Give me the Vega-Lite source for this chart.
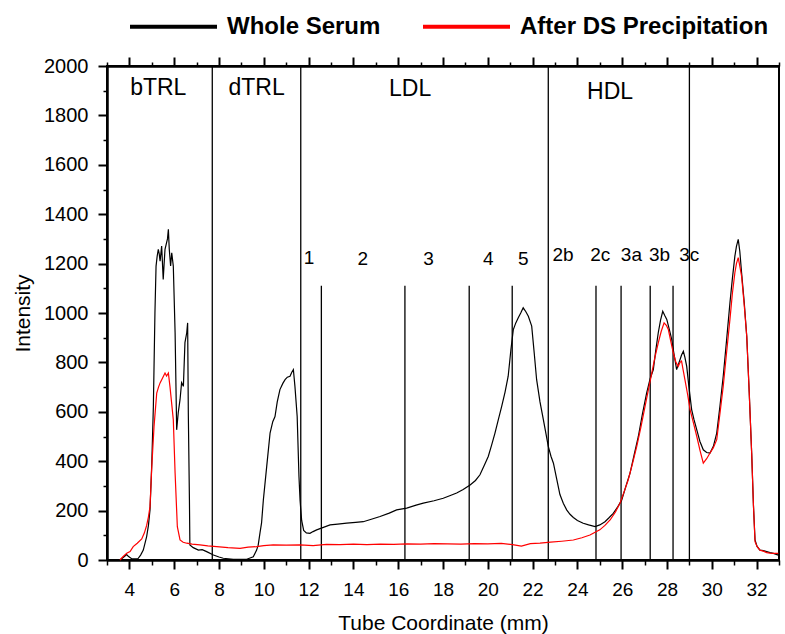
{
  "$schema": "https://vega.github.io/schema/vega-lite/v6.json",
  "width": 672,
  "height": 494,
  "autosize": {"type": "none"},
  "padding": {"left": 107, "top": 66, "right": 6, "bottom": 74},
  "background": "white",
  "config": {
    "view": {"stroke": "black", "strokeWidth": 2},
    "font": "Liberation Sans",
    "axis": {
      "grid": false,
      "domainColor": "black",
      "domainWidth": 2,
      "tickColor": "black",
      "tickWidth": 2,
      "labelColor": "black",
      "titleColor": "black",
      "labelFont": "Liberation Sans",
      "titleFont": "Liberation Sans",
      "titleFontWeight": "normal",
      "labelFlush": false,
      "labelOverlap": false
    }
  },
  "datasets": {
    "curves": [
      {"series": "Whole Serum", "x": 3.58, "y": 0},
      {"series": "Whole Serum", "x": 3.75, "y": 12},
      {"series": "Whole Serum", "x": 3.88, "y": 22},
      {"series": "Whole Serum", "x": 3.95, "y": 15},
      {"series": "Whole Serum", "x": 4.1, "y": 5},
      {"series": "Whole Serum", "x": 4.38, "y": 5},
      {"series": "Whole Serum", "x": 4.5, "y": 20},
      {"series": "Whole Serum", "x": 4.62, "y": 40},
      {"series": "Whole Serum", "x": 4.77, "y": 95},
      {"series": "Whole Serum", "x": 4.85, "y": 140},
      {"series": "Whole Serum", "x": 4.92, "y": 203},
      {"series": "Whole Serum", "x": 5.0, "y": 393},
      {"series": "Whole Serum", "x": 5.07, "y": 622},
      {"series": "Whole Serum", "x": 5.14, "y": 1000},
      {"series": "Whole Serum", "x": 5.19, "y": 1190},
      {"series": "Whole Serum", "x": 5.24, "y": 1230},
      {"series": "Whole Serum", "x": 5.29, "y": 1258},
      {"series": "Whole Serum", "x": 5.33, "y": 1240},
      {"series": "Whole Serum", "x": 5.37, "y": 1210},
      {"series": "Whole Serum", "x": 5.44, "y": 1271},
      {"series": "Whole Serum", "x": 5.51, "y": 1136},
      {"series": "Whole Serum", "x": 5.55, "y": 1200},
      {"series": "Whole Serum", "x": 5.59, "y": 1258},
      {"series": "Whole Serum", "x": 5.66, "y": 1285},
      {"series": "Whole Serum", "x": 5.7, "y": 1300},
      {"series": "Whole Serum", "x": 5.74, "y": 1339},
      {"series": "Whole Serum", "x": 5.78, "y": 1258},
      {"series": "Whole Serum", "x": 5.84, "y": 1190},
      {"series": "Whole Serum", "x": 5.89, "y": 1244},
      {"series": "Whole Serum", "x": 5.96, "y": 1190},
      {"series": "Whole Serum", "x": 6.04, "y": 921},
      {"series": "Whole Serum", "x": 6.11, "y": 527},
      {"series": "Whole Serum", "x": 6.18, "y": 596},
      {"series": "Whole Serum", "x": 6.26, "y": 649},
      {"series": "Whole Serum", "x": 6.33, "y": 718},
      {"series": "Whole Serum", "x": 6.41, "y": 703},
      {"series": "Whole Serum", "x": 6.48, "y": 880},
      {"series": "Whole Serum", "x": 6.56, "y": 920},
      {"series": "Whole Serum", "x": 6.6, "y": 960},
      {"series": "Whole Serum", "x": 6.63, "y": 596},
      {"series": "Whole Serum", "x": 6.68, "y": 243},
      {"series": "Whole Serum", "x": 6.7, "y": 61},
      {"series": "Whole Serum", "x": 6.85, "y": 50},
      {"series": "Whole Serum", "x": 7.08, "y": 40},
      {"series": "Whole Serum", "x": 7.25, "y": 42},
      {"series": "Whole Serum", "x": 7.45, "y": 34},
      {"series": "Whole Serum", "x": 7.75, "y": 20},
      {"series": "Whole Serum", "x": 8.0, "y": 12},
      {"series": "Whole Serum", "x": 8.19, "y": 7},
      {"series": "Whole Serum", "x": 8.64, "y": 3},
      {"series": "Whole Serum", "x": 9.24, "y": 3},
      {"series": "Whole Serum", "x": 9.53, "y": 13},
      {"series": "Whole Serum", "x": 9.68, "y": 40},
      {"series": "Whole Serum", "x": 9.75, "y": 60},
      {"series": "Whole Serum", "x": 9.83, "y": 110},
      {"series": "Whole Serum", "x": 9.9, "y": 150},
      {"series": "Whole Serum", "x": 9.98, "y": 243},
      {"series": "Whole Serum", "x": 10.13, "y": 379},
      {"series": "Whole Serum", "x": 10.28, "y": 514},
      {"series": "Whole Serum", "x": 10.4, "y": 560},
      {"series": "Whole Serum", "x": 10.5, "y": 581},
      {"series": "Whole Serum", "x": 10.6, "y": 640},
      {"series": "Whole Serum", "x": 10.72, "y": 690},
      {"series": "Whole Serum", "x": 10.85, "y": 715},
      {"series": "Whole Serum", "x": 10.95, "y": 730},
      {"series": "Whole Serum", "x": 11.05, "y": 740},
      {"series": "Whole Serum", "x": 11.17, "y": 744},
      {"series": "Whole Serum", "x": 11.25, "y": 760},
      {"series": "Whole Serum", "x": 11.32, "y": 771},
      {"series": "Whole Serum", "x": 11.39, "y": 703},
      {"series": "Whole Serum", "x": 11.49, "y": 581},
      {"series": "Whole Serum", "x": 11.57, "y": 338},
      {"series": "Whole Serum", "x": 11.62, "y": 240},
      {"series": "Whole Serum", "x": 11.69, "y": 160},
      {"series": "Whole Serum", "x": 11.78, "y": 120},
      {"series": "Whole Serum", "x": 11.9, "y": 110},
      {"series": "Whole Serum", "x": 12.06, "y": 108},
      {"series": "Whole Serum", "x": 12.2, "y": 115},
      {"series": "Whole Serum", "x": 12.36, "y": 122},
      {"series": "Whole Serum", "x": 12.6, "y": 130},
      {"series": "Whole Serum", "x": 12.96, "y": 142},
      {"series": "Whole Serum", "x": 13.3, "y": 145},
      {"series": "Whole Serum", "x": 13.7, "y": 149},
      {"series": "Whole Serum", "x": 14.1, "y": 152},
      {"series": "Whole Serum", "x": 14.44, "y": 155},
      {"series": "Whole Serum", "x": 14.8, "y": 165},
      {"series": "Whole Serum", "x": 15.19, "y": 176},
      {"series": "Whole Serum", "x": 15.6, "y": 190},
      {"series": "Whole Serum", "x": 15.93, "y": 203},
      {"series": "Whole Serum", "x": 16.38, "y": 210},
      {"series": "Whole Serum", "x": 16.8, "y": 222},
      {"series": "Whole Serum", "x": 17.12, "y": 230},
      {"series": "Whole Serum", "x": 17.6, "y": 240},
      {"series": "Whole Serum", "x": 18.01, "y": 250},
      {"series": "Whole Serum", "x": 18.3, "y": 260},
      {"series": "Whole Serum", "x": 18.61, "y": 271},
      {"series": "Whole Serum", "x": 18.9, "y": 285},
      {"series": "Whole Serum", "x": 19.21, "y": 304},
      {"series": "Whole Serum", "x": 19.45, "y": 322},
      {"series": "Whole Serum", "x": 19.65, "y": 345},
      {"series": "Whole Serum", "x": 19.85, "y": 385},
      {"series": "Whole Serum", "x": 20.02, "y": 419},
      {"series": "Whole Serum", "x": 20.17, "y": 465},
      {"series": "Whole Serum", "x": 20.32, "y": 514},
      {"series": "Whole Serum", "x": 20.47, "y": 568},
      {"series": "Whole Serum", "x": 20.62, "y": 622},
      {"series": "Whole Serum", "x": 20.77, "y": 680},
      {"series": "Whole Serum", "x": 20.91, "y": 744},
      {"series": "Whole Serum", "x": 21.03, "y": 850},
      {"series": "Whole Serum", "x": 21.14, "y": 933},
      {"series": "Whole Serum", "x": 21.25, "y": 960},
      {"series": "Whole Serum", "x": 21.36, "y": 981},
      {"series": "Whole Serum", "x": 21.47, "y": 1000},
      {"series": "Whole Serum", "x": 21.58, "y": 1021},
      {"series": "Whole Serum", "x": 21.7, "y": 1005},
      {"series": "Whole Serum", "x": 21.81, "y": 987},
      {"series": "Whole Serum", "x": 21.96, "y": 947},
      {"series": "Whole Serum", "x": 22.07, "y": 840},
      {"series": "Whole Serum", "x": 22.18, "y": 730},
      {"series": "Whole Serum", "x": 22.33, "y": 640},
      {"series": "Whole Serum", "x": 22.48, "y": 568},
      {"series": "Whole Serum", "x": 22.6, "y": 510},
      {"series": "Whole Serum", "x": 22.7, "y": 460},
      {"series": "Whole Serum", "x": 22.82, "y": 420},
      {"series": "Whole Serum", "x": 22.93, "y": 392},
      {"series": "Whole Serum", "x": 23.07, "y": 330},
      {"series": "Whole Serum", "x": 23.22, "y": 265},
      {"series": "Whole Serum", "x": 23.37, "y": 230},
      {"series": "Whole Serum", "x": 23.52, "y": 203},
      {"series": "Whole Serum", "x": 23.67, "y": 185},
      {"series": "Whole Serum", "x": 23.82, "y": 172},
      {"series": "Whole Serum", "x": 24.0, "y": 160},
      {"series": "Whole Serum", "x": 24.26, "y": 149},
      {"series": "Whole Serum", "x": 24.5, "y": 142},
      {"series": "Whole Serum", "x": 24.79, "y": 135},
      {"series": "Whole Serum", "x": 25.0, "y": 142},
      {"series": "Whole Serum", "x": 25.23, "y": 155},
      {"series": "Whole Serum", "x": 25.4, "y": 170},
      {"series": "Whole Serum", "x": 25.6, "y": 189},
      {"series": "Whole Serum", "x": 25.8, "y": 215},
      {"series": "Whole Serum", "x": 25.98, "y": 243},
      {"series": "Whole Serum", "x": 26.17, "y": 300},
      {"series": "Whole Serum", "x": 26.35, "y": 352},
      {"series": "Whole Serum", "x": 26.53, "y": 425},
      {"series": "Whole Serum", "x": 26.72, "y": 500},
      {"series": "Whole Serum", "x": 26.9, "y": 590},
      {"series": "Whole Serum", "x": 27.09, "y": 676},
      {"series": "Whole Serum", "x": 27.25, "y": 735},
      {"series": "Whole Serum", "x": 27.39, "y": 771},
      {"series": "Whole Serum", "x": 27.5, "y": 850},
      {"series": "Whole Serum", "x": 27.61, "y": 920},
      {"series": "Whole Serum", "x": 27.71, "y": 970},
      {"series": "Whole Serum", "x": 27.81, "y": 1007},
      {"series": "Whole Serum", "x": 27.9, "y": 990},
      {"series": "Whole Serum", "x": 27.99, "y": 974},
      {"series": "Whole Serum", "x": 28.1, "y": 935},
      {"series": "Whole Serum", "x": 28.21, "y": 893},
      {"series": "Whole Serum", "x": 28.32, "y": 830},
      {"series": "Whole Serum", "x": 28.43, "y": 771},
      {"series": "Whole Serum", "x": 28.5, "y": 790},
      {"series": "Whole Serum", "x": 28.58, "y": 811},
      {"series": "Whole Serum", "x": 28.65, "y": 830},
      {"series": "Whole Serum", "x": 28.73, "y": 845},
      {"series": "Whole Serum", "x": 28.8, "y": 820},
      {"series": "Whole Serum", "x": 28.88, "y": 784},
      {"series": "Whole Serum", "x": 28.98, "y": 700},
      {"series": "Whole Serum", "x": 29.1, "y": 609},
      {"series": "Whole Serum", "x": 29.2, "y": 570},
      {"series": "Whole Serum", "x": 29.33, "y": 527},
      {"series": "Whole Serum", "x": 29.47, "y": 480},
      {"series": "Whole Serum", "x": 29.62, "y": 446},
      {"series": "Whole Serum", "x": 29.77, "y": 435},
      {"series": "Whole Serum", "x": 29.92, "y": 433},
      {"series": "Whole Serum", "x": 30.07, "y": 460},
      {"series": "Whole Serum", "x": 30.22, "y": 514},
      {"series": "Whole Serum", "x": 30.36, "y": 620},
      {"series": "Whole Serum", "x": 30.51, "y": 744},
      {"series": "Whole Serum", "x": 30.66, "y": 890},
      {"series": "Whole Serum", "x": 30.81, "y": 1041},
      {"series": "Whole Serum", "x": 30.92, "y": 1140},
      {"series": "Whole Serum", "x": 31.03, "y": 1230},
      {"series": "Whole Serum", "x": 31.1, "y": 1270},
      {"series": "Whole Serum", "x": 31.18, "y": 1298},
      {"series": "Whole Serum", "x": 31.25, "y": 1250},
      {"series": "Whole Serum", "x": 31.33, "y": 1163},
      {"series": "Whole Serum", "x": 31.45, "y": 1040},
      {"series": "Whole Serum", "x": 31.56, "y": 906},
      {"series": "Whole Serum", "x": 31.67, "y": 680},
      {"series": "Whole Serum", "x": 31.78, "y": 433},
      {"series": "Whole Serum", "x": 31.86, "y": 220},
      {"series": "Whole Serum", "x": 31.93, "y": 81},
      {"series": "Whole Serum", "x": 32.02, "y": 55},
      {"series": "Whole Serum", "x": 32.15, "y": 40},
      {"series": "Whole Serum", "x": 32.3, "y": 38},
      {"series": "Whole Serum", "x": 32.45, "y": 34},
      {"series": "Whole Serum", "x": 32.6, "y": 30},
      {"series": "Whole Serum", "x": 32.75, "y": 27},
      {"series": "Whole Serum", "x": 32.97, "y": 20},
      {"series": "After DS Precipitation", "x": 3.58, "y": 0},
      {"series": "After DS Precipitation", "x": 3.7, "y": 12},
      {"series": "After DS Precipitation", "x": 3.88, "y": 27},
      {"series": "After DS Precipitation", "x": 4.03, "y": 34},
      {"series": "After DS Precipitation", "x": 4.17, "y": 54},
      {"series": "After DS Precipitation", "x": 4.35, "y": 68},
      {"series": "After DS Precipitation", "x": 4.55, "y": 85},
      {"series": "After DS Precipitation", "x": 4.67, "y": 110},
      {"series": "After DS Precipitation", "x": 4.77, "y": 140},
      {"series": "After DS Precipitation", "x": 4.85, "y": 175},
      {"series": "After DS Precipitation", "x": 4.92, "y": 216},
      {"series": "After DS Precipitation", "x": 5.0, "y": 379},
      {"series": "After DS Precipitation", "x": 5.1, "y": 541},
      {"series": "After DS Precipitation", "x": 5.22, "y": 676},
      {"series": "After DS Precipitation", "x": 5.3, "y": 700},
      {"series": "After DS Precipitation", "x": 5.37, "y": 717},
      {"series": "After DS Precipitation", "x": 5.47, "y": 735},
      {"series": "After DS Precipitation", "x": 5.59, "y": 757},
      {"series": "After DS Precipitation", "x": 5.66, "y": 745},
      {"series": "After DS Precipitation", "x": 5.74, "y": 757},
      {"series": "After DS Precipitation", "x": 5.81, "y": 703},
      {"series": "After DS Precipitation", "x": 5.88, "y": 640},
      {"series": "After DS Precipitation", "x": 5.96, "y": 568},
      {"series": "After DS Precipitation", "x": 6.04, "y": 352},
      {"series": "After DS Precipitation", "x": 6.14, "y": 135},
      {"series": "After DS Precipitation", "x": 6.26, "y": 81},
      {"series": "After DS Precipitation", "x": 6.4, "y": 72},
      {"series": "After DS Precipitation", "x": 6.56, "y": 68},
      {"series": "After DS Precipitation", "x": 6.8, "y": 64},
      {"series": "After DS Precipitation", "x": 7.15, "y": 61},
      {"series": "After DS Precipitation", "x": 7.5, "y": 57},
      {"series": "After DS Precipitation", "x": 7.9, "y": 54},
      {"series": "After DS Precipitation", "x": 8.4, "y": 50},
      {"series": "After DS Precipitation", "x": 8.94, "y": 47},
      {"series": "After DS Precipitation", "x": 9.3, "y": 52},
      {"series": "After DS Precipitation", "x": 9.68, "y": 54},
      {"series": "After DS Precipitation", "x": 10.0, "y": 58},
      {"series": "After DS Precipitation", "x": 10.42, "y": 61},
      {"series": "After DS Precipitation", "x": 11.0, "y": 60},
      {"series": "After DS Precipitation", "x": 11.62, "y": 61},
      {"series": "After DS Precipitation", "x": 12.2, "y": 58},
      {"series": "After DS Precipitation", "x": 12.8, "y": 63},
      {"series": "After DS Precipitation", "x": 13.4, "y": 62},
      {"series": "After DS Precipitation", "x": 14.0, "y": 64},
      {"series": "After DS Precipitation", "x": 14.6, "y": 62},
      {"series": "After DS Precipitation", "x": 15.2, "y": 64},
      {"series": "After DS Precipitation", "x": 15.8, "y": 63},
      {"series": "After DS Precipitation", "x": 16.4, "y": 65},
      {"series": "After DS Precipitation", "x": 17.0, "y": 64},
      {"series": "After DS Precipitation", "x": 17.6, "y": 66},
      {"series": "After DS Precipitation", "x": 18.2, "y": 65},
      {"series": "After DS Precipitation", "x": 18.8, "y": 64},
      {"series": "After DS Precipitation", "x": 19.4, "y": 66},
      {"series": "After DS Precipitation", "x": 20.0, "y": 65},
      {"series": "After DS Precipitation", "x": 20.6, "y": 67},
      {"series": "After DS Precipitation", "x": 21.1, "y": 62},
      {"series": "After DS Precipitation", "x": 21.5, "y": 56},
      {"series": "After DS Precipitation", "x": 21.9, "y": 66},
      {"series": "After DS Precipitation", "x": 22.33, "y": 68},
      {"series": "After DS Precipitation", "x": 22.8, "y": 72},
      {"series": "After DS Precipitation", "x": 23.3, "y": 76},
      {"series": "After DS Precipitation", "x": 23.82, "y": 81},
      {"series": "After DS Precipitation", "x": 24.2, "y": 90},
      {"series": "After DS Precipitation", "x": 24.56, "y": 101},
      {"series": "After DS Precipitation", "x": 25.0, "y": 122},
      {"series": "After DS Precipitation", "x": 25.23, "y": 140},
      {"series": "After DS Precipitation", "x": 25.46, "y": 162},
      {"series": "After DS Precipitation", "x": 25.7, "y": 195},
      {"series": "After DS Precipitation", "x": 25.9, "y": 230},
      {"series": "After DS Precipitation", "x": 26.1, "y": 280},
      {"series": "After DS Precipitation", "x": 26.27, "y": 325},
      {"series": "After DS Precipitation", "x": 26.46, "y": 390},
      {"series": "After DS Precipitation", "x": 26.65, "y": 460},
      {"series": "After DS Precipitation", "x": 26.84, "y": 540},
      {"series": "After DS Precipitation", "x": 27.02, "y": 622},
      {"series": "After DS Precipitation", "x": 27.17, "y": 690},
      {"series": "After DS Precipitation", "x": 27.32, "y": 757},
      {"series": "After DS Precipitation", "x": 27.46, "y": 820},
      {"series": "After DS Precipitation", "x": 27.61, "y": 879},
      {"series": "After DS Precipitation", "x": 27.74, "y": 925},
      {"series": "After DS Precipitation", "x": 27.87, "y": 960},
      {"series": "After DS Precipitation", "x": 27.97, "y": 950},
      {"series": "After DS Precipitation", "x": 28.06, "y": 933},
      {"series": "After DS Precipitation", "x": 28.17, "y": 885},
      {"series": "After DS Precipitation", "x": 28.28, "y": 839},
      {"series": "After DS Precipitation", "x": 28.4, "y": 800},
      {"series": "After DS Precipitation", "x": 28.5, "y": 784},
      {"series": "After DS Precipitation", "x": 28.58, "y": 800},
      {"series": "After DS Precipitation", "x": 28.65, "y": 805},
      {"series": "After DS Precipitation", "x": 28.72, "y": 770},
      {"series": "After DS Precipitation", "x": 28.8, "y": 730},
      {"series": "After DS Precipitation", "x": 28.92, "y": 670},
      {"series": "After DS Precipitation", "x": 29.03, "y": 609},
      {"series": "After DS Precipitation", "x": 29.18, "y": 555},
      {"series": "After DS Precipitation", "x": 29.33, "y": 500},
      {"series": "After DS Precipitation", "x": 29.47, "y": 445},
      {"series": "After DS Precipitation", "x": 29.62, "y": 392},
      {"series": "After DS Precipitation", "x": 29.77, "y": 410},
      {"series": "After DS Precipitation", "x": 29.92, "y": 433},
      {"series": "After DS Precipitation", "x": 30.07, "y": 455},
      {"series": "After DS Precipitation", "x": 30.22, "y": 487},
      {"series": "After DS Precipitation", "x": 30.36, "y": 590},
      {"series": "After DS Precipitation", "x": 30.51, "y": 703},
      {"series": "After DS Precipitation", "x": 30.66, "y": 840},
      {"series": "After DS Precipitation", "x": 30.81, "y": 974},
      {"series": "After DS Precipitation", "x": 30.92, "y": 1080},
      {"series": "After DS Precipitation", "x": 31.03, "y": 1163},
      {"series": "After DS Precipitation", "x": 31.1, "y": 1200},
      {"series": "After DS Precipitation", "x": 31.18, "y": 1224},
      {"series": "After DS Precipitation", "x": 31.25, "y": 1190},
      {"series": "After DS Precipitation", "x": 31.33, "y": 1149},
      {"series": "After DS Precipitation", "x": 31.45, "y": 1030},
      {"series": "After DS Precipitation", "x": 31.56, "y": 906},
      {"series": "After DS Precipitation", "x": 31.67, "y": 680},
      {"series": "After DS Precipitation", "x": 31.78, "y": 433},
      {"series": "After DS Precipitation", "x": 31.86, "y": 220},
      {"series": "After DS Precipitation", "x": 31.93, "y": 74},
      {"series": "After DS Precipitation", "x": 32.02, "y": 55},
      {"series": "After DS Precipitation", "x": 32.15, "y": 40},
      {"series": "After DS Precipitation", "x": 32.3, "y": 36},
      {"series": "After DS Precipitation", "x": 32.45, "y": 30},
      {"series": "After DS Precipitation", "x": 32.6, "y": 28},
      {"series": "After DS Precipitation", "x": 32.75, "y": 27},
      {"series": "After DS Precipitation", "x": 32.97, "y": 27}
    ],
    "boundaries": [
      {"x": 7.7},
      {"x": 11.65},
      {"x": 22.7},
      {"x": 29.0}
    ],
    "subdivisions": [
      {"x": 12.57},
      {"x": 16.3},
      {"x": 19.17},
      {"x": 21.09},
      {"x": 24.83},
      {"x": 25.95},
      {"x": 27.25},
      {"x": 28.27}
    ],
    "classes": [
      {"label": "bTRL", "x": 5.29, "y": 1910},
      {"label": "dTRL", "x": 9.68, "y": 1912},
      {"label": "LDL", "x": 16.53, "y": 1905},
      {"label": "HDL", "x": 25.46, "y": 1895}
    ],
    "subclasses": [
      {"label": "1", "x": 12.02, "y": 1221},
      {"label": "2", "x": 14.42, "y": 1217},
      {"label": "3", "x": 17.35, "y": 1217},
      {"label": "4", "x": 20.02, "y": 1219},
      {"label": "5", "x": 21.58, "y": 1219},
      {"label": "2b", "x": 23.36, "y": 1235},
      {"label": "2c", "x": 25.02, "y": 1235},
      {"label": "3a", "x": 26.41, "y": 1235},
      {"label": "3b", "x": 27.67, "y": 1235},
      {"label": "3c", "x": 28.99, "y": 1235}
    ]
  },
  "layer": [
    {
      "data": {"name": "boundaries"},
      "mark": {"type": "rule", "color": "black", "strokeWidth": 1.3},
      "encoding": {
        "x": {
          "field": "x",
          "type": "quantitative",
          "scale": {"domain": [3, 33], "nice": false, "zero": false},
          "axis": {
            "orient": "top",
            "values": [4, 6, 8, 10, 12, 14, 16, 18, 20, 22, 24, 26, 28, 30, 32],
            "labels": false,
            "title": null,
            "tickSize": 9
          }
        }
      }
    },
    {
      "data": {"name": "subdivisions"},
      "mark": {"type": "rule", "color": "black", "strokeWidth": 1.3},
      "encoding": {
        "x": {
          "field": "x",
          "type": "quantitative",
          "axis": {
            "orient": "top",
            "values": [3, 5, 7, 9, 11, 13, 15, 17, 19, 21, 23, 25, 27, 29, 31, 33],
            "labels": false,
            "title": null,
            "tickSize": 4,
            "tickWidth": 1.5
          }
        },
        "y": {"datum": 0, "type": "quantitative", "axis": null},
        "y2": {"datum": 1110}
      }
    },
    {
      "data": {"name": "curves"},
      "transform": [{"filter": "datum.series === 'Whole Serum'"}],
      "mark": {"type": "line", "strokeWidth": 1.2},
      "encoding": {
        "x": {
          "field": "x",
          "type": "quantitative",
          "axis": {
            "orient": "bottom",
            "values": [4, 6, 8, 10, 12, 14, 16, 18, 20, 22, 24, 26, 28, 30, 32],
            "title": "Tube Coordinate (mm)",
            "format": "d",
            "tickSize": 9,
            "labelFontSize": 19,
            "labelPadding": 11,
            "titleFontSize": 21,
            "titlePadding": 13
          }
        },
        "y": {
          "field": "y",
          "type": "quantitative",
          "scale": {"domain": [0, 2000], "nice": false},
          "axis": {
            "orient": "left",
            "values": [0, 200, 400, 600, 800, 1000, 1200, 1400, 1600, 1800, 2000],
            "title": "Intensity",
            "format": "d",
            "tickSize": 9,
            "labelFontSize": 20,
            "labelPadding": 10,
            "titleFontSize": 21,
            "titlePadding": 10
          }
        },
        "color": {
          "field": "series",
          "type": "nominal",
          "scale": {
            "domain": ["Whole Serum", "After DS Precipitation"],
            "range": ["#000000", "#ff0000"]
          },
          "legend": {
            "title": null,
            "orient": "none",
            "direction": "horizontal",
            "legendX": 21,
            "legendY": -85,
            "padding": 0,
            "symbolType": "stroke",
            "symbolSize": 7569,
            "symbolStrokeWidth": 4,
            "labelFont": "Liberation Sans",
            "labelFontSize": 24,
            "labelFontWeight": "bold",
            "labelColor": "black",
            "labelOffset": 8,
            "labelLimit": 400,
            "columnPadding": 34
          }
        }
      }
    },
    {
      "data": {"name": "curves"},
      "transform": [{"filter": "datum.series === 'After DS Precipitation'"}],
      "mark": {"type": "line", "strokeWidth": 1.2},
      "encoding": {
        "x": {
          "field": "x",
          "type": "quantitative",
          "axis": {
            "orient": "bottom",
            "values": [3, 5, 7, 9, 11, 13, 15, 17, 19, 21, 23, 25, 27, 29, 31, 33],
            "labels": false,
            "title": null,
            "tickSize": 5,
            "tickWidth": 1.5
          }
        },
        "y": {
          "field": "y",
          "type": "quantitative",
          "axis": {
            "orient": "left",
            "values": [100, 300, 500, 700, 900, 1100, 1300, 1500, 1700, 1900],
            "labels": false,
            "title": null,
            "tickSize": 4,
            "tickWidth": 1.5
          }
        },
        "color": {"field": "series", "type": "nominal"}
      }
    },
    {
      "data": {"name": "classes"},
      "mark": {"type": "text", "font": "Liberation Sans", "fontSize": 23, "color": "black", "baseline": "middle", "align": "center"},
      "encoding": {
        "x": {"field": "x", "type": "quantitative", "axis": null},
        "y": {"field": "y", "type": "quantitative", "axis": null},
        "text": {"field": "label"}
      }
    },
    {
      "data": {"name": "subclasses"},
      "mark": {"type": "text", "font": "Liberation Sans", "fontSize": 19, "color": "black", "baseline": "middle", "align": "center"},
      "encoding": {
        "x": {"field": "x", "type": "quantitative", "axis": null},
        "y": {"field": "y", "type": "quantitative", "axis": null},
        "text": {"field": "label"}
      }
    }
  ],
  "resolve": {"axis": {"x": "independent", "y": "independent"}}
}
